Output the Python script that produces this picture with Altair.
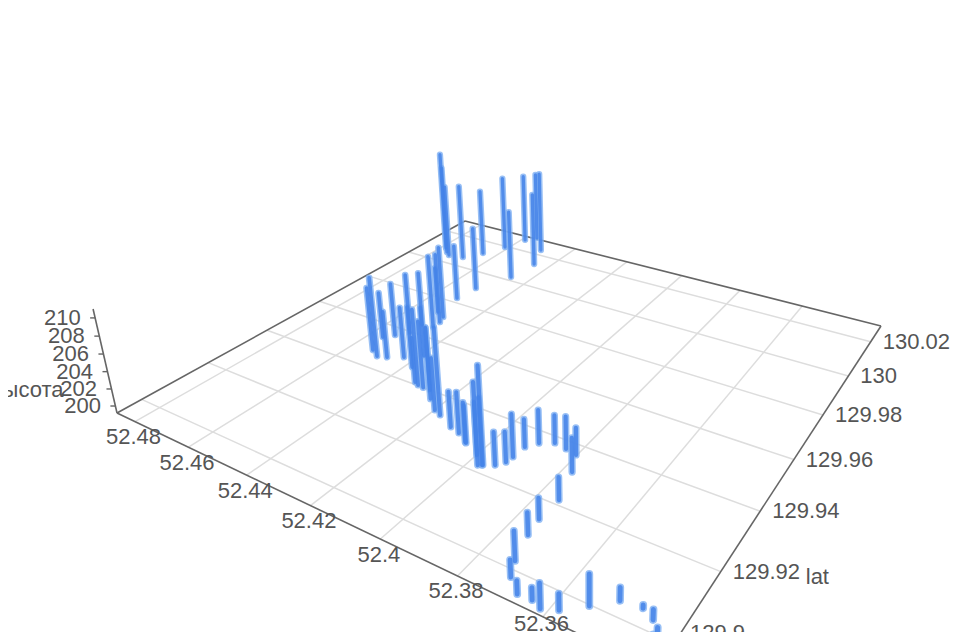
import altair as alt
import pandas as pd
import numpy as np

lon = [52.4783,52.4760,52.4739,52.4689,52.4650,52.4614,52.4464,52.4588,52.4562,52.4495,52.4454,52.4514,52.4523,
       52.4484,52.4473,52.4517,52.4471,52.4506,52.4506,52.4535,52.4557,52.4473,52.4500,52.4532,52.4433,52.4309,52.4390,
       52.4325,52.4267,52.4174,52.4199,52.4120,52.4088,52.4053,52.4049,52.3965,52.3975,52.3999,52.3967,52.3941,52.3926,
       52.3923,52.3921,52.3901,52.3869,52.3834,52.3802,52.3777,52.3751,52.3754,52.3747,52.3727,52.3709,52.3673,52.3640,
       52.3615,52.3583,52.3540,52.3497,52.3451,52.3422,52.3394,52.3403,52.4290,52.4240,52.4380]
lat = [130.0088,130.0065,130.0050,130.0061,130.0119,130.0194,130.0022,130.0275,130.0309,130.0235,130.0136,129.9906,129.9825,
       129.9713,129.9685,129.9729,129.9653,129.9646,129.9594,129.9564,129.9538,129.9464,129.9454,129.9472,129.9487,129.9402,129.9519,
       129.9409,129.9400,129.9328,129.9338,129.9303,129.9294,129.9274,129.9272,129.9227,129.9221,129.9249,129.9226,129.9241,129.9262,
       129.9285,129.9329,129.9358,129.9377,129.9371,129.9364,129.9308,129.9215,129.9144,129.9094,129.9021,129.8982,129.8953,129.8955,
       129.8945,129.8960,129.8997,129.9037,129.9043,129.9028,129.8991,129.8992,129.9400,129.9370,129.9460]
height = [212.7,211.3,209.0,209.3,208.1,209.2,208.2,208.6,208.6,210.2,209.0,207.3,206.2,
          208.2,207.9,205.0,208.2,205.9,206.6,205.7,204.8,204.8,208.8,206.9,205.3,208.1,205.2,
          204.5,206.5,209.1,205.2,203.2,203.8,203.6,203.4,209.8,208.1,205.0,206.5,202.8,202.5,
          203.9,202.3,202.9,202.3,202.8,202.2,202.9,201.6,201.4,201.5,202.2,200.9,200.5,200.4,
          201.7,200.8,202.3,200.5,199.5,200.2,200.4,199.5,207.0,207.5,206.5]
lon_ticks = [52.36,52.38,52.40,52.42,52.44,52.46,52.48]
lon_labels = ["52.36","52.38","52.4","52.42","52.44","52.46","52.48"]
lat_ticks = [129.90,129.92,129.94,129.96,129.98,130.00,130.02]
lat_labels = ["129.9","129.92","129.94","129.96","129.98","130","130.02"]
z_ticks = [200,202,204,206,208,210]

LON0, LON1 = 52.4871, 52.3365
LAT0, LAT1 = 129.8932, 130.0301
Z0, Z1 = 199.17, 210.97
a,b,c,d,e,f,g,h = 339.9,561.8,117,54.3,-90.4,413,-0.3035,0.4598
i,j,k = -28.4,-118.9,-0.0481

def proj(lo, la, z):
    lo, la, z = np.asarray(lo,float), np.asarray(la,float), np.asarray(z,float)
    u = (lo-LON0)/(LON1-LON0)
    v = (la-LAT0)/(LAT1-LAT0)
    t = (z-Z0)/(Z1-Z0)
    w = g*u+h*v+1+k*t
    return (a*u+b*v+c+i*t)/w, (d*u+e*v+f+j*t)/w, w

X = alt.Scale(domain=[8,952],nice=False,zero=False)
Y = alt.Scale(domain=[632,8],nice=False,zero=False)

def seg(lo1, la1, z1, lo2, la2, z2):
    x1,y1,_ = proj(lo1,la1,z1)
    x2,y2,_ = proj(lo2,la2,z2)
    return pd.DataFrame(dict(x=x1,y=y1,x2=x2,y2=y2))

def rules(df, color, width):
    return alt.Chart(df).mark_rule(color=color, strokeWidth=width).encode(
        x=alt.X("x:Q",scale=X,axis=None), y=alt.Y("y:Q",scale=Y,axis=None), x2="x2:Q", y2="y2:Q")

n1, n2 = len(lon_ticks), len(lat_ticks)
grid = pd.concat([
    seg(lon_ticks,[LAT0]*n1,[Z0]*n1,lon_ticks,[LAT1]*n1,[Z0]*n1),
    seg([LON0]*n2,lat_ticks,[Z0]*n2,[LON1]*n2,lat_ticks,[Z0]*n2)])
edges = seg([LON0,LON0,LON1,LON0,LON0],[LAT0,LAT1,LAT1,LAT0,LAT0],[Z0]*5,
            [LON0,LON1,LON1,LON1,LON0],[LAT1,LAT1,LAT0,LAT0,LAT0],[Z0,Z0,Z0,Z0,Z1])
tx,ty,_ = proj([LON0]*6,[LAT0]*6,z_ticks)
ticks = pd.DataFrame(dict(x=tx,y=ty,x2=tx-5,y2=ty))

x0,y0,w0 = proj(lon,lat,[Z0]*len(lon))
x1,y1,_ = proj(lon,lat,height)
bars = pd.DataFrame(dict(x=x0,y=y0,x2=x1,y2=y1,w=4.4+2.6/w0)).sort_values("y")
bars["w2"] = bars["w"]-3.0

def barlayer(field,color,op):
    return alt.Chart(bars).mark_rule(color=color,opacity=op,strokeCap="round").encode(
        x=alt.X("x:Q",scale=X,axis=None), y=alt.Y("y:Q",scale=Y,axis=None), x2="x2:Q", y2="y2:Q",
        strokeWidth=alt.StrokeWidth(f"{field}:Q",scale=None), order=alt.Order("y:Q"))

def labels(xs,ys,texts,align,dx,dy):
    df = pd.DataFrame(dict(x=xs,y=ys,s=texts))
    return alt.Chart(df).mark_text(font="Liberation Sans",fontSize=22,color="#555555",align=align,baseline="middle",dx=dx,dy=dy).encode(
        x=alt.X("x:Q",scale=X,axis=None), y=alt.Y("y:Q",scale=Y,axis=None), text="s:N")

lx,ly,_ = proj(lon_ticks,[LAT0]*n1,[Z0]*n1)
ax,ay,_ = proj([LON1]*n2,lat_ticks,[Z0]*n2)
nx,ny,_ = proj([LON1],[129.92],[Z0])
hx,hy,_ = proj([LON0],[LAT0],[202])

chart = alt.layer(
    rules(grid,"#dddddd",1.5),
    rules(edges,"#666666",1.6),
    rules(ticks,"#666666",1.4),
    barlayer("w","#7fb0f2",0.8),
    barlayer("w2","#4482e8",0.85),
    labels(lx[1:],ly[1:],lon_labels[1:],"center",-1.5,15.5),
    labels(lx[:1],ly[:1],lon_labels[:1],"center",-1.5,7),
    labels(ax[1:],ay[1:],lat_labels[1:],"left",12,0),
    labels(ax[:1],ay[:1],lat_labels[:1],"left",16,-10),
    labels(tx,ty,[str(z) for z in z_ticks],"right",-14.5,0),
    labels(nx,ny,["lat"],"left",85,5),
    labels(hx,hy,["высота"],"right",-48,1),
).properties(width=944,height=624,padding=0,autosize=alt.AutoSizeParams(type="none")).configure_view(stroke=None)

chart.save("out.html", embed_options={"renderer":"svg","actions":False})
